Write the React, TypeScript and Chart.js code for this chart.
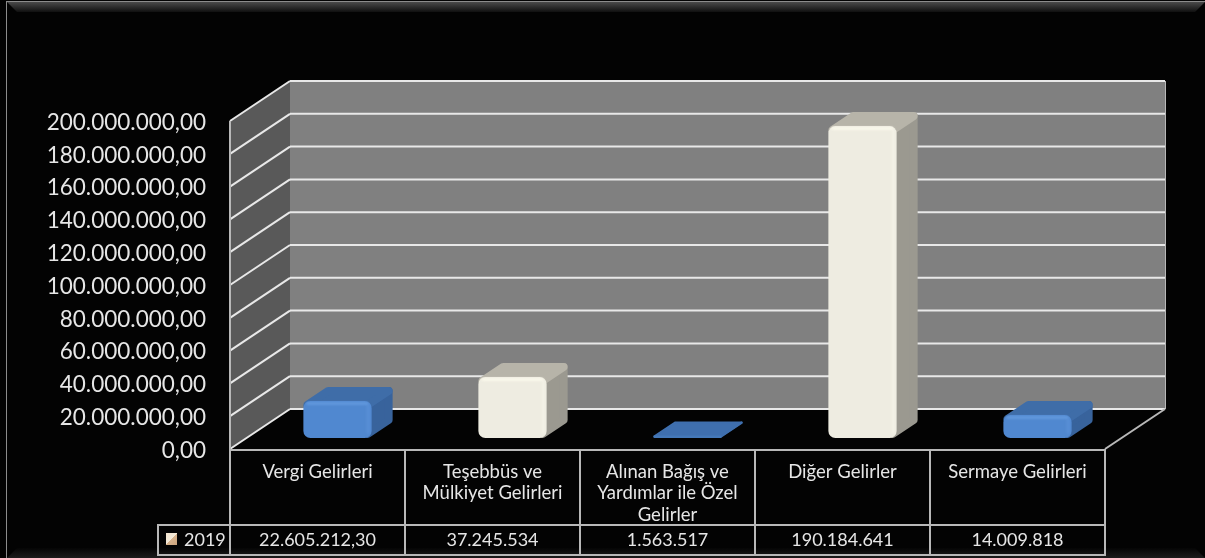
import React, { useEffect, useRef } from "react";
import { Chart, registerables } from "chart.js";

Chart.register(...registerables);

const categories = [
  ["Vergi Gelirleri"],
  ["Teşebbüs ve", "Mülkiyet Gelirleri"],
  ["Alınan Bağış ve", "Yardımlar ile Özel", "Gelirler"],
  ["Diğer Gelirler"],
  ["Sermaye Gelirleri"],
];
const seriesName = "2019";
const values2019 = [22605212.3, 37245534, 1563517, 190184641, 14009818];
const valueLabels = ["22.605.212,30", "37.245.534", "1.563.517", "190.184.641", "14.009.818"];
const tickLabels = [
  "0,00",
  "20.000.000,00",
  "40.000.000,00",
  "60.000.000,00",
  "80.000.000,00",
  "100.000.000,00",
  "120.000.000,00",
  "140.000.000,00",
  "160.000.000,00",
  "180.000.000,00",
  "200.000.000,00",
];
const barFront = ["#5088d0", "#eeece1", "#4478b8", "#eeece1", "#5088d0"];
const barTop = ["#3f6da8", "#b7b4a9", "#3f6fae", "#b7b4a9", "#3f6da8"];
const barSide = ["#38639c", "#9b9990", "#3f6fae", "#9b9990", "#38639c"];
const barGlow = ["#6a9fe2", "#fffdf0", "#4f81bd", "#fffdf0", "#6a9fe2"];

const FONT = "Lato";
const WALL_DX = 60;
const WALL_DY = -40;
const BAR_DX = 20;
const BAR_DY = -11;
const DEPTH_DX = 21;
const DEPTH_DY = -14;
const TEXT = "#e6e6e6";
const LINE = "#b8b8b8";
const GRID = "#e8e8e8";

function seg(c: CanvasRenderingContext2D, x1: number, y1: number, x2: number, y2: number) {
  c.beginPath();
  c.moveTo(x1, y1);
  c.lineTo(x2, y2);
  c.stroke();
}

function poly(c: CanvasRenderingContext2D, pts: number[][], fill: string, round = 0) {
  c.beginPath();
  pts.forEach((p, i) => (i ? c.lineTo(p[0], p[1]) : c.moveTo(p[0], p[1])));
  c.closePath();
  c.fillStyle = fill;
  c.fill();
  if (round) {
    c.strokeStyle = fill;
    c.lineWidth = round;
    c.lineJoin = "round";
    c.stroke();
  }
}

const scenePlugin = {
  id: "scene",
  beforeDraw(chart: any) {
    const c: CanvasRenderingContext2D = chart.ctx;
    const { width, height, chartArea: a, scales } = chart;
    const y = scales.y;
    c.save();
    c.fillStyle = "#030303";
    c.fillRect(0, 0, width, height);

    // frame
    const topBand = c.createLinearGradient(0, 2, 0, 12);
    topBand.addColorStop(0, "#4a4a4a");
    topBand.addColorStop(1, "#101010");
    poly(c, [[7, 2], [width, 2], [width - 10, 12], [17, 12]], topBand as any);
    c.fillStyle = "#8c8c8c";
    c.fillRect(6, 1, 1, height);
    c.fillRect(6, 1, width - 6, 1);
    const botBand = c.createLinearGradient(0, height - 10, 0, height);
    botBand.addColorStop(0, "#050505");
    botBand.addColorStop(1, "#1c1c1c");
    poly(c, [[17, height - 10], [width - 10, height - 10], [width, height], [7, height]], botBand as any);

    const top = y.getPixelForValue(y.max);
    const bot = y.getPixelForValue(y.min);
    // back wall + side wall + floor
    c.fillStyle = "#808080";
    c.fillRect(a.left + WALL_DX, top + WALL_DY, a.right - a.left, bot - top);
    poly(c, [
      [a.left, top],
      [a.left + WALL_DX, top + WALL_DY],
      [a.left + WALL_DX, bot + WALL_DY],
      [a.left, bot],
    ], "#595959");
    poly(c, [
      [a.left, bot],
      [a.left + WALL_DX, bot + WALL_DY],
      [a.right + WALL_DX, bot + WALL_DY],
      [a.right, bot],
    ], "#030303");

    // grid lines from the value axis ticks
    c.strokeStyle = GRID;
    c.lineWidth = 2;
    y.ticks.forEach((t: any) => {
      const py = y.getPixelForValue(t.value);
      seg(c, a.left + WALL_DX, py + WALL_DY, a.right + WALL_DX, py + WALL_DY);
      seg(c, a.left, py, a.left + WALL_DX, py + WALL_DY);
    });
    c.strokeStyle = LINE;
    c.lineWidth = 1;
    seg(c, a.right + WALL_DX + 0.5, top + WALL_DY, a.right + WALL_DX + 0.5, bot + WALL_DY);
    c.lineWidth = 2;
    seg(c, a.right, bot, a.right + WALL_DX, bot + WALL_DY);
    seg(c, a.left, top, a.left, bot);

    // data table
    const x = scales.x;
    const n = categories.length;
    const step = (a.right - a.left) / n;
    const rowTop = 525;
    const rowBot = 555;
    c.strokeStyle = LINE;
    c.lineWidth = 2;
    seg(c, a.left, bot + 1, a.right, bot + 1);
    seg(c, 158, rowTop, a.right, rowTop);
    seg(c, 158, rowBot, a.right, rowBot);
    seg(c, 158, rowTop - 1, 158, rowBot + 1);
    for (let i = 0; i <= n; i++) {
      const px = a.left + i * step;
      seg(c, px, bot, px, rowBot + 1);
    }
    c.fillStyle = TEXT;
    c.font = `18px ${FONT}`;
    c.textAlign = "center";
    c.textBaseline = "middle";
    valueLabels.forEach((s, i) => c.fillText(s, x.getPixelForValue(i), 540));

    // legend entry
    const sw = c.createLinearGradient(166, 533, 177, 545);
    sw.addColorStop(0, "#f3e3cf");
    sw.addColorStop(0.5, "#f4ead8");
    sw.addColorStop(0.5, "#d8b48e");
    sw.addColorStop(1, "#c9a27b");
    c.fillStyle = sw;
    c.fillRect(166, 533, 11, 12);
    c.fillStyle = TEXT;
    c.textAlign = "left";
    c.fillText(seriesName, 184, 540);
    c.restore();
  },
  beforeDatasetDraw(chart: any, args: any) {
    const c: CanvasRenderingContext2D = chart.ctx;
    c.save();
    c.translate(BAR_DX, BAR_DY);
    (c as any).filter = "blur(0.7px)";
    args.meta.data.forEach((bar: any, i: number) => {
      const w = bar.width;
      const l = bar.x - w / 2;
      const r = bar.x + w / 2;
      const t = bar.y;
      const b = bar.base;
      const inset = b - t < 10 ? 1 : 4;
      const inT = Math.min(t + inset, b - 1);
      poly(c, [
        [r - inset, b - inset],
        [r - inset + DEPTH_DX, b - inset + DEPTH_DY],
        [r - inset + DEPTH_DX, inT + DEPTH_DY],
        [r - inset, inT],
      ], barSide[i], inset * 2);
      poly(c, [
        [l + inset, inT],
        [l + inset + DEPTH_DX, inT + DEPTH_DY],
        [r - inset + DEPTH_DX, inT + DEPTH_DY],
        [r - inset, inT],
      ], barTop[i], inset * 2);
    });
  },
  afterDatasetDraw(chart: any, args: any) {
    const c: CanvasRenderingContext2D = chart.ctx;
    (c as any).filter = "blur(1px)";
    args.meta.data.forEach((bar: any, i: number) => {
      const w = bar.width;
      const l = bar.x - w / 2;
      const r = bar.x + w / 2;
      const t = bar.y;
      const b = bar.base;
      if (b - t < 10) return;
      c.fillStyle = barGlow[i];
      c.globalAlpha = 0.7;
      c.beginPath();
      c.roundRect(l + 3, t + 1, w - 6, 3, 2);
      c.fill();
      c.globalAlpha = 0.35;
      c.beginPath();
      c.roundRect(r - 5, t + 3, 3, b - t - 7, 2);
      c.fill();
      c.globalAlpha = 1;
    });
    c.restore();
  },
};

export default function App() {
  const ref = useRef<HTMLCanvasElement | null>(null);
  useEffect(() => {
    if (!ref.current) return;
    const chart = new Chart(ref.current, {
      type: "bar",
      data: {
        labels: categories as any,
        datasets: [
          {
            label: seriesName,
            data: values2019,
            backgroundColor: barFront,
            borderWidth: 0,
            borderRadius: 7,
            borderSkipped: false,
            barPercentage: 0.39,
            categoryPercentage: 1,
            clip: false as any,
          },
        ],
      },
      options: {
        responsive: false,
        animation: false,
        layout: { padding: { top: 121, left: 0, right: 100, bottom: 0 } },
        plugins: { legend: { display: false }, title: { display: false }, tooltip: { enabled: false } },
        scales: {
          x: {
            grid: { display: false, drawTicks: false },
            border: { display: false },
            afterFit: (s: any) => {
              s.height = 109;
            },
            ticks: {
              color: TEXT,
              autoSkip: false,
              maxRotation: 0,
              padding: 12,
              font: { family: FONT, size: 18.5, lineHeight: 1.17 },
            },
          },
          y: {
            min: 0,
            max: 200000000,
            grid: { display: false, drawTicks: false },
            border: { display: false },
            afterFit: (s: any) => {
              s.width = 230;
              // nudge tick labels down onto the axis positions of the reference
              if (!s.__nudged) {
                s.__nudged = true;
                const orig = s._computeLabelItems.bind(s);
                s._computeLabelItems = (area: any) =>
                  orig(area).map((it: any) => ({
                    ...it,
                    options: {
                      ...it.options,
                      translation: [it.options.translation[0], it.options.translation[1] + 1.5],
                    },
                  }));
              }
            },
            ticks: {
              stepSize: 20000000,
              color: TEXT,
              padding: 24,
              font: { family: FONT, size: 22.5 },
              callback: (_v: any, i: number) => tickLabels[i],
            },
          },
        },
      },
      plugins: [scenePlugin],
    } as any);
    return () => chart.destroy();
  }, []);
  return (
    <div style={{ position: "absolute", left: 0, top: 0, width: 1205, height: 558, overflow: "hidden", background: "#030303" }}>
      <canvas ref={ref} width={1205} height={558} style={{ display: "block" }} />
    </div>
  );
}
